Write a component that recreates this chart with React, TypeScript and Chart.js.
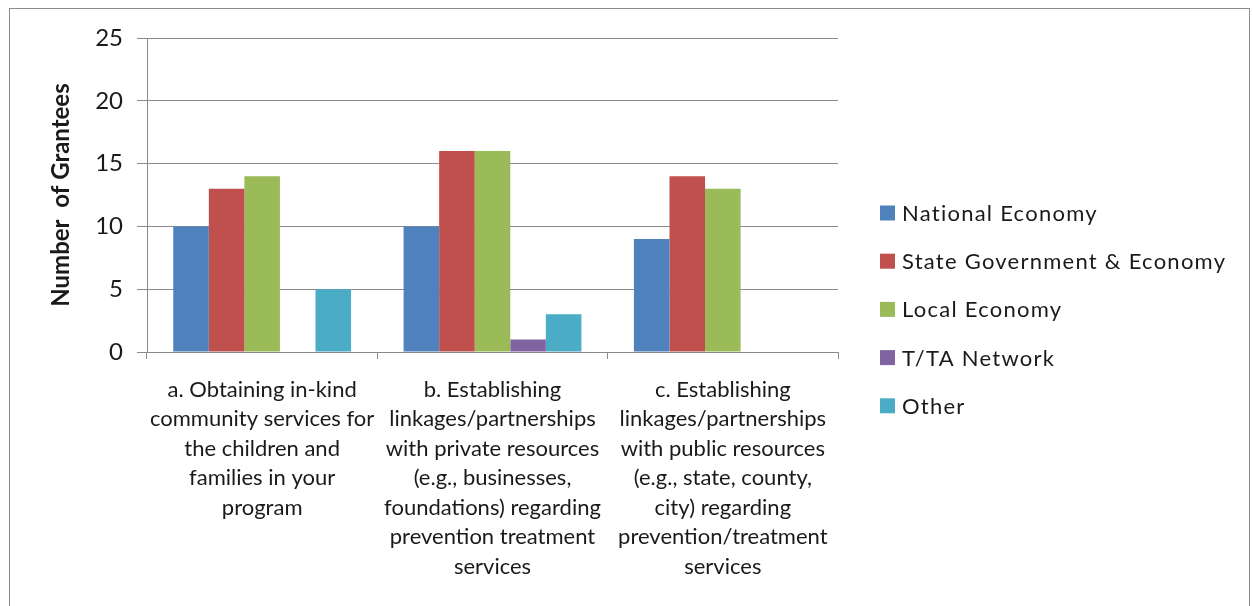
import { useEffect, useRef } from 'react';
import { Chart, registerables } from 'chart.js';

Chart.register(...registerables);

// Category labels, pre-wrapped into lines
const categories: string[][] = [
  ['a. Obtaining in-kind', 'community services for', 'the children and', 'families in your', 'program'],
  ['b. Establishing', 'linkages/partnerships', 'with private resources', '(e.g., businesses,', 'foundations) regarding', 'prevention treatment', 'services'],
  ['c. Establishing', 'linkages/partnerships', 'with public resources', '(e.g., state, county,', 'city) regarding', 'prevention/treatment', 'services'],
];

const seriesNames = ['National Economy', 'State Government & Economy', 'Local Economy', 'T/TA Network', 'Other'];
const nationalEconomy = [10, 10, 9];
const stateGovernmentEconomy = [13, 16, 14];
const localEconomy = [14, 16, 13];
const ttaNetwork = [0, 1, 0];
const other = [5, 3, 0];
const seriesColors = ['#4F81BD', '#C0504D', '#9BBB59', '#8064A2', '#4BACC6'];

const yMin = 0;
const yMax = 25;
const yStep = 5;
const yTitle = 'Number  of Grantees';

const FONT = 'Lato, "Open Sans", sans-serif';
const GRID = '#8a8a8a';
const TEXT = '#1a1a1a';

// Thin grey frame around the whole chart
const framePlugin = {
  id: 'frame',
  beforeDraw(chart: any) {
    const { ctx } = chart;
    ctx.save();
    ctx.fillStyle = '#ffffff';
    ctx.fillRect(0, 0, chart.width, chart.height);
    ctx.strokeStyle = '#8c8c8c';
    ctx.lineWidth = 1;
    ctx.strokeRect(9.5, 8.5, chart.width - 13, chart.height + 20);
    ctx.restore();
  },
};

// Legend column to the right of the plot
const sideLegendPlugin = {
  id: 'sideLegend',
  afterDraw(chart: any) {
    const { ctx, chartArea } = chart;
    const datasets = chart.data.datasets;
    const rowH = 48.2;
    const box = 15;
    const x0 = chartArea.right + 42;
    const firstY = 213;
    ctx.save();
    ctx.font = `22px ${FONT}`;
    ctx.letterSpacing = '1.25px';
    ctx.textBaseline = 'middle';
    ctx.textAlign = 'left';
    datasets.forEach((ds: any, i: number) => {
      const cy = firstY + i * rowH;
      ctx.fillStyle = ds.backgroundColor;
      ctx.fillRect(x0, cy - box / 2, box, box);
      ctx.fillStyle = TEXT;
      ctx.fillText(ds.label, x0 + 22, cy + 1);
    });
    ctx.restore();
  },
};

export default function App() {
  const canvasRef = useRef<HTMLCanvasElement | null>(null);

  useEffect(() => {
    if (!canvasRef.current) return;
    const values = [nationalEconomy, stateGovernmentEconomy, localEconomy, ttaNetwork, other];
    const chart = new Chart(canvasRef.current, {
      type: 'bar',
      data: {
        labels: categories,
        datasets: seriesNames.map((name, i) => ({
          label: name,
          data: values[i],
          backgroundColor: seriesColors[i],
          borderWidth: 0,
          barPercentage: 1,
          categoryPercentage: 0.772,
        })),
      },
      options: {
        responsive: false,
        animation: false,
        devicePixelRatio: 1,
        layout: { padding: { left: 0, top: 38, right: 415, bottom: 0 } },
        plugins: {
          legend: { display: false },
          tooltip: { enabled: false },
        },
        scales: {
          x: {
            type: 'category',
            offset: true,
            afterFit(scale: any) {
              scale.height = 254;
            },
            grid: {
              offset: true,
              drawOnChartArea: false,
              drawTicks: true,
              tickLength: 7,
              color: GRID,
            },
            border: { color: GRID },
            ticks: {
              color: TEXT,
              padding: 16,
              maxRotation: 0,
              autoSkip: false,
              font: { family: FONT, size: 22, lineHeight: 1.34 },
            },
          },
          y: {
            min: yMin,
            max: yMax,
            afterFit(scale: any) {
              scale.width = 147;
            },
            ticks: {
              stepSize: yStep,
              color: TEXT,
              padding: 14,
              font: { family: FONT, size: 24 },
            },
            grid: { color: GRID, tickLength: 10 },
            border: { color: GRID },
            title: {
              display: true,
              text: yTitle,
              color: TEXT,
              font: { family: FONT, size: 24, weight: 'bold' },
              padding: { top: 47, bottom: 0 },
            },
          },
        },
      },
      plugins: [framePlugin, sideLegendPlugin],
    });
    return () => chart.destroy();
  }, []);

  return (
    <div style={{ position: 'absolute', left: 0, top: 0, width: 1253, height: 606 }}>
      <canvas ref={canvasRef} width={1253} height={606} style={{ display: 'block' }} />
    </div>
  );
}
